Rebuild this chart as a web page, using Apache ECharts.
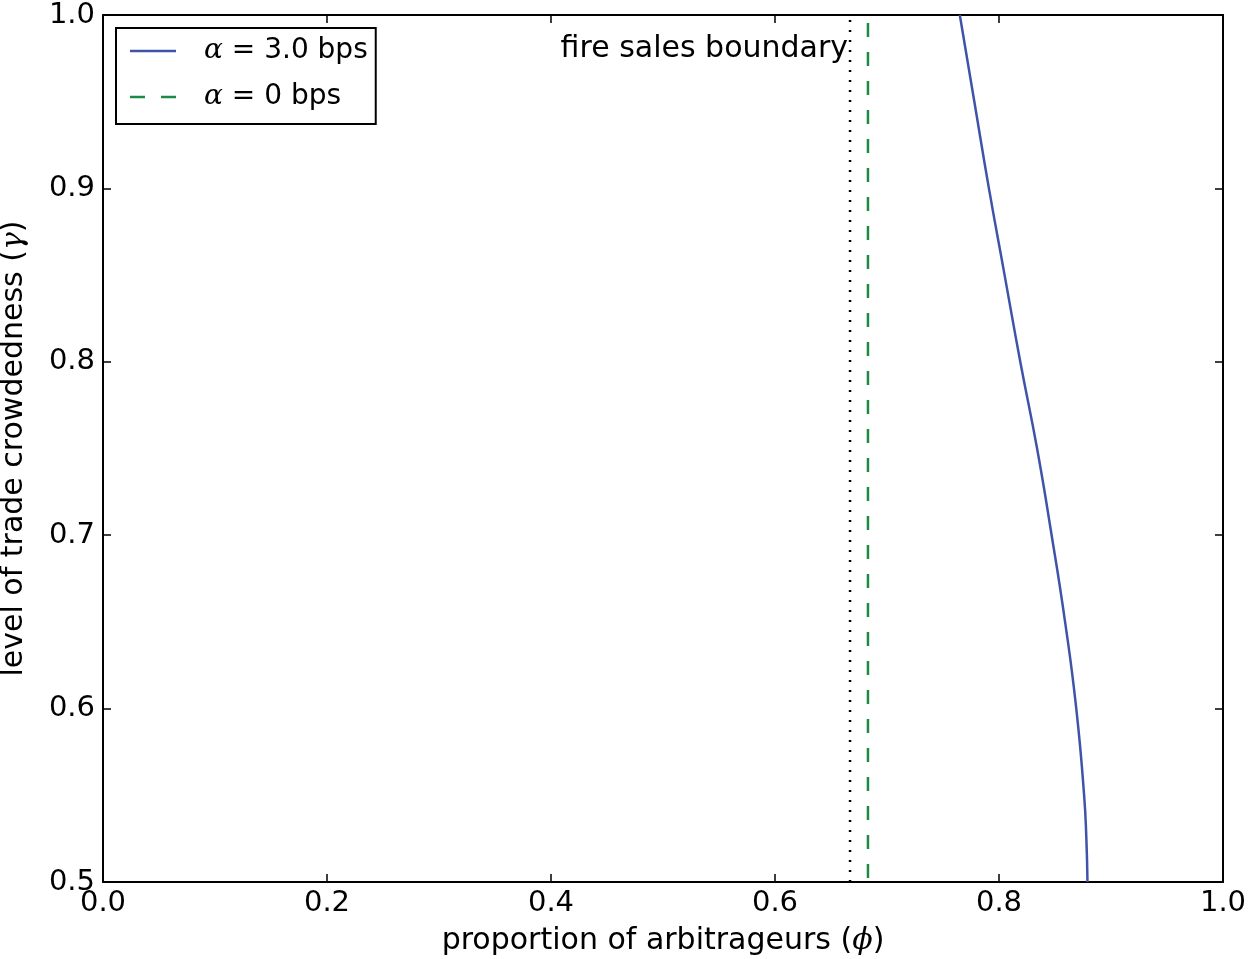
<!DOCTYPE html>
<html>
<head>
<meta charset="utf-8">
<script src="https://cdn.jsdelivr.net/npm/echarts@6/dist/echarts.min.js"></script>
<style>
  html, body { margin: 0; padding: 0; background: #fff; }
  #chart { width: 1250px; height: 959px; }
</style>
</head>
<body>
<div id="chart"></div>
<script>
// gamma (y) levels and the matching phi (x) values of the alpha = 3.0 bps curve
const gammaLevels = [1.0, 0.95, 0.9, 0.85, 0.8, 0.75, 0.7, 0.65, 0.6, 0.55, 0.525, 0.5]
const phiAlpha3 = [0.765, 0.778, 0.791, 0.805, 0.819, 0.834, 0.847, 0.859, 0.869, 0.876, 0.878, 0.879]
// vertical boundaries
const phiAlpha0 = 0.683
const fireSalesPhi = 0.667

const chart = echarts.init(document.getElementById('chart'))
const font = 'DejaVu Sans'
const fs = 29

const tickStyle = { show: true, inside: true, length: 8, lineStyle: { color: '#000', width: 1.5 } }
const lineAx = { show: true, onZero: false, lineStyle: { color: '#000', width: 2 } }
const mathRich = { m: { fontFamily: 'DejaVu Serif', fontStyle: 'italic', fontSize: fs + 1, color: '#000' } }

const option = {
  animation: false,
  grid: { left: 103, top: 15, width: 1120, height: 867, containLabel: false, outerBoundsMode: 'none' },
  legend: {
    left: 116, top: 28,
    orient: 'vertical',
    backgroundColor: '#fff',
    borderColor: '#000', borderWidth: 2, borderRadius: 0,
    padding: [9, 8, 13, 14],
    itemGap: 18,
    itemWidth: 46, itemHeight: 2.5,
    data: [
      { name: 'a3', icon: 'rect' },
      { name: 'a0', icon: 'path://M0,0h15v2.5h-15zM31,0h15v2.5h-15z' }
    ],
    formatter: function (n) {
      return n === 'a3' ? '{m|α} = 3.0 bps' : '{m|α} = 0 bps'
    },
    textStyle: {
      fontFamily: font, fontSize: fs - 1, color: '#000', padding: [0, 0, 0, 23],
      rich: { m: { fontFamily: 'DejaVu Serif', fontStyle: 'italic', fontSize: fs - 1, color: '#000' } }
    }
  },
  xAxis: [{
    type: 'value', min: 0, max: 1, interval: 0.2,
    name: 'proportion of arbitrageurs ({m|ϕ})', nameLocation: 'middle', nameGap: 44,
    nameTextStyle: { fontFamily: font, fontSize: fs + 1, color: '#000', rich: mathRich },
    axisLine: lineAx, axisTick: tickStyle, splitLine: { show: false },
    axisLabel: { fontFamily: font, fontSize: fs, color: '#000', margin: 7, formatter: v => v.toFixed(1) }
  }, {
    type: 'value', min: 0, max: 1, interval: 0.2, position: 'top',
    axisLine: lineAx, axisTick: tickStyle, splitLine: { show: false }, axisLabel: { show: false }
  }],
  yAxis: [{
    type: 'value', min: 0.5, max: 1, interval: 0.1,
    name: 'level of trade crowdedness ({m|γ})', nameLocation: 'middle', nameGap: 74, nameRotate: 90,
    nameTextStyle: { fontFamily: font, fontSize: fs + 1, color: '#000', rich: mathRich },
    axisLine: lineAx, axisTick: tickStyle, splitLine: { show: false },
    axisLabel: { fontFamily: font, fontSize: fs, color: '#000', margin: 8, formatter: v => v.toFixed(1) }
  }, {
    type: 'value', min: 0.5, max: 1, interval: 0.1, position: 'right',
    axisLine: lineAx, axisTick: tickStyle, splitLine: { show: false }, axisLabel: { show: false }
  }],
  series: [
    {
      name: 'a3', type: 'line', symbol: 'none', smooth: true,
      data: gammaLevels.map((g, i) => [phiAlpha3[i], g]),
      lineStyle: { color: '#3f54a8', width: 2.5 }, itemStyle: { color: '#3f54a8' }
    },
    {
      name: 'a0', type: 'line', symbol: 'none',
      data: [[phiAlpha0, 1.0], [phiAlpha0, 0.5]],
      lineStyle: { color: '#1b8a43', width: 2.5, type: [14, 15], dashOffset: -8 }, itemStyle: { color: '#1b8a43' }
    },
    {
      name: 'fire', type: 'line', symbol: 'none',
      data: [[fireSalesPhi, 0.5], [fireSalesPhi, 1.0]],
      lineStyle: { color: '#000', width: 2.5, type: [2, 8] }
    }
  ]
}
chart.setOption(option)

const p = chart.convertToPixel({ xAxisIndex: 0, yAxisIndex: 0 }, [fireSalesPhi, 1.0])
chart.setOption({
  graphic: [{
    type: 'text', x: p[0] - 2, y: p[1] + 34,
    style: { text: 'fire sales boundary', fontFamily: font, fontSize: fs + 1, fill: '#000', align: 'right', verticalAlign: 'middle' }
  }]
})
</script>
</body>
</html>
